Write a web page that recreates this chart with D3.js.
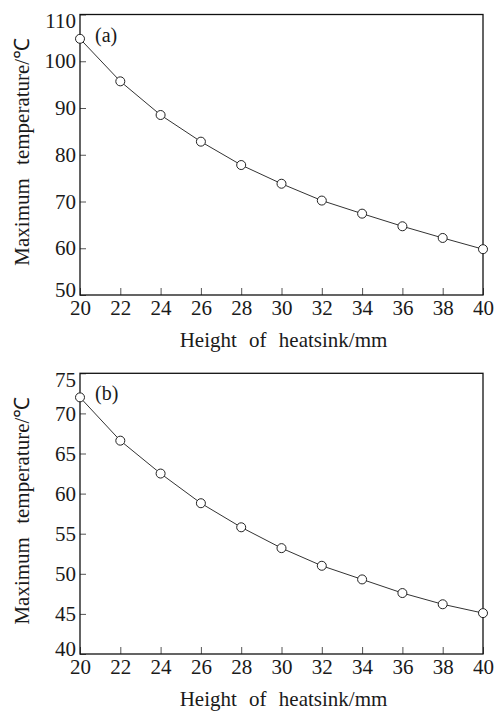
<!DOCTYPE html>
<html>
<head>
<meta charset="utf-8">
<script src="https://cdn.jsdelivr.net/npm/d3@7"></script>
<style>
  html, body { margin: 0; padding: 0; background: #fff; }
  svg { display: block; }
  svg text { font-family: 'Liberation Serif', 'Times New Roman', serif; fill: #1a1a1a; }
</style>
</head>
<body>
<div id="chart"></div>
<script>
const heights = [20, 22, 24, 26, 28, 30, 32, 34, 36, 38, 40];
const tempA = [104.8, 95.7, 88.5, 82.8, 77.8, 73.8, 70.2, 67.4, 64.7, 62.2, 59.8];
const tempB = [72.0, 66.6, 62.5, 58.8, 55.8, 53.2, 51.0, 49.3, 47.6, 46.2, 45.1];
const yTicksA = [50, 60, 70, 80, 90, 100, 110];
const yTicksB = [40, 45, 50, 55, 60, 65, 70, 75];
const panelLabels = ['(a)', '(b)'];
const xTitle = 'Height of heatsink/mm';
const yTitle = 'Maximum temperature/℃';

const W = 496, H = 711;

const svg = d3.select('#chart').append('svg')
  .attr('width', W).attr('height', H);

// panneau : position et taille de la zone de tracé
const panels = [
  { top: 14.5, bottom: 295, values: tempA, ticks: yTicksA, label: panelLabels[0] },
  { top: 373.3, bottom: 654, values: tempB, ticks: yTicksB, label: panelLabels[1] },
];
const left = 80, right = 483;

panels.forEach(p => {
  const w = right - left;
  const h = p.bottom - p.top;
  const g = svg.append('g').attr('transform', `translate(${left},${p.top})`);

  const x = d3.scaleLinear().domain([20, 40]).range([0, w]);
  const y = d3.scaleLinear().domain(d3.extent(p.ticks)).range([h, 0]);
  const [yLo, yHi] = d3.extent(p.ticks);

  // Axe X (graduations vers l'intérieur)
  g.append('g')
    .attr('transform', `translate(0,${h})`)
    .call(d3.axisBottom(x).tickValues(heights).tickSize(-7).tickPadding(5).tickFormat(d3.format('d')))
    .call(a => a.attr('font-family', null).attr('font-size', null))
    .call(a => a.select('.domain').remove())
    .call(a => a.selectAll('line').attr('stroke', '#555'))
    .call(a => a.selectAll('text').attr('fill', null).style('font-size', '21px'));

  // Axe Y — les étiquettes extrêmes sont rentrées vers l'intérieur
  g.append('g')
    .call(d3.axisLeft(y).tickValues(p.ticks).tickSize(-6).tickPadding(4).tickFormat(d3.format('d')))
    .call(a => a.attr('font-family', null).attr('font-size', null))
    .call(a => a.select('.domain').remove())
    .call(a => a.selectAll('line').attr('stroke', '#555'))
    .call(a => a.selectAll('text').attr('fill', null).style('font-size', '21px')
      .attr('dy', d => d === yHi ? '0.62em' : d === yLo ? '0.08em' : '0.32em'));

  // Cadre
  g.append('rect')
    .attr('width', w).attr('height', h)
    .attr('fill', 'none')
    .attr('stroke', '#111')
    .attr('stroke-width', 1.3);

  const data = heights.map((hh, i) => ({ x: hh, v: p.values[i] }));
  const line = d3.line().x(d => x(d.x)).y(d => y(d.v));

  g.append('path').datum(data)
    .attr('fill', 'none')
    .attr('stroke', '#333')
    .attr('stroke-width', 1)
    .attr('d', line);

  g.selectAll('circle.pt').data(data).enter().append('circle')
    .attr('class', 'pt')
    .attr('cx', d => x(d.x)).attr('cy', d => y(d.v))
    .attr('r', 4.5)
    .attr('fill', '#fff')
    .attr('stroke', '#222')
    .attr('stroke-width', 1);

  g.append('text')
    .attr('x', 15).attr('y', 27)
    .style('font-size', '20px')
    .text(p.label);

  // Titres
  svg.append('text')
    .attr('x', left + w / 2 + 2).attr('y', p.bottom + 52)
    .attr('text-anchor', 'middle')
    .style('font-size', '21px')
    .style('word-spacing', '7px')
    .text(xTitle);

  svg.append('text')
    .attr('transform', `translate(29,${p.top + h / 2 - 3}) rotate(-90)`)
    .attr('text-anchor', 'middle')
    .style('font-size', '21px')
    .style('word-spacing', '8px')
    .text(yTitle);
});
</script>
</body>
</html>
